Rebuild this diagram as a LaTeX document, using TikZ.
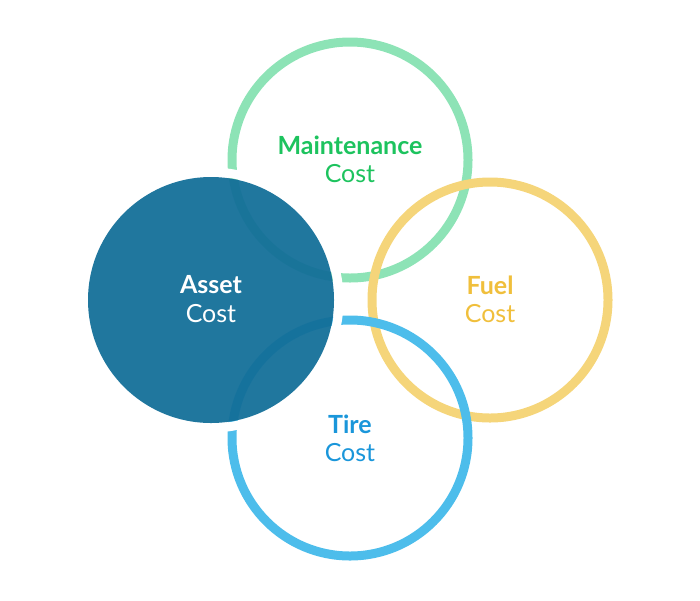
\documentclass[tikz,border=0pt]{standalone}
\usepackage{fontspec}
\setmainfont{Lato}
\usetikzlibrary{positioning}
\definecolor{assetblue}{HTML}{126E98}
\definecolor{maintring}{HTML}{8DE3B6}
\definecolor{mainttext}{HTML}{1DC35E}
\definecolor{fuelring}{HTML}{F5D57A}
\definecolor{fueltext}{HTML}{F0BF3C}
\definecolor{tirering}{HTML}{4DBDEB}
\definecolor{tiretext}{HTML}{1A96DA}

\begin{document}
\begin{tikzpicture}[x=1pt, y=-1pt,
    ring/.style={draw=#1, line width=9pt},
    title/.style={font=\fontsize{25}{30}\selectfont\bfseries, inner sep=0pt},
    subtitle/.style={font=\fontsize{25}{30}\selectfont, inner sep=0pt}
]
    \useasboundingbox (0,0) rectangle (700,600);

    % Rings
    \draw[ring=maintring] (350,160) circle[radius=118];
    \draw[ring=fuelring] (490,300) circle[radius=118];
    \draw[ring=tirering] (350,438) circle[radius=118];

    % Asset circle with white gap
    \draw[white, line width=9pt] (211,300) circle[radius=128];
    \fill[assetblue, fill opacity=0.94] (211,300) circle[radius=123];

    % Labels
    \node[title, text=mainttext] (mainttitle) at (350,145) {Maintenance};
    \node[subtitle, text=mainttext, below=10pt of mainttitle] (maintcost) {Cost};
    \node[title, text=white] (assettitle) at (211,285) {Asset};
    \node[subtitle, text=white, below=10pt of assettitle] (assetcost) {Cost};
    \node[title, text=fueltext] (fueltitle) at (490,285) {Fuel};
    \node[subtitle, text=fueltext, below=10pt of fueltitle] (fuelcost) {Cost};
    \node[title, text=tiretext] (tiretitle) at (350,424) {Tire};
    \node[subtitle, text=tiretext, below=10pt of tiretitle] (tirecost) {Cost};
\end{tikzpicture}
\end{document}
